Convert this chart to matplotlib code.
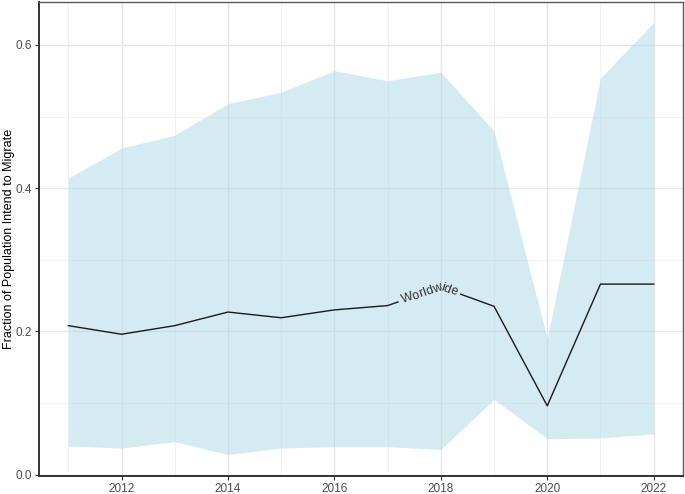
import numpy as np
import matplotlib
matplotlib.use("Agg")
import matplotlib.pyplot as plt
from matplotlib.ticker import MultipleLocator

plt.rcParams['font.family'] = ['Liberation Sans', 'DejaVu Sans']

years = np.arange(2011, 2023)
mean = [0.208, 0.196, 0.208, 0.227, 0.219, 0.230, 0.236, 0.262, 0.235, 0.096, 0.266, 0.266]
upper = [0.414, 0.456, 0.474, 0.518, 0.534, 0.564, 0.550, 0.562, 0.480, 0.190, 0.554, 0.631]
lower = [0.040, 0.037, 0.046, 0.028, 0.037, 0.039, 0.039, 0.035, 0.105, 0.050, 0.051, 0.057]
label = "Worldwide"

fig = plt.figure(figsize=(6.85, 4.94), dpi=100)
ax = fig.add_axes([0.057, 0.0364, 0.94, 0.9596])

# grid like theme_bw
ax.set_xlim(2010.45, 2022.55)
ax.set_ylim(-0.002, 0.66)
ax.xaxis.set_major_locator(MultipleLocator(2))
ax.xaxis.set_minor_locator(MultipleLocator(1))
ax.yaxis.set_major_locator(MultipleLocator(0.2))
ax.yaxis.set_minor_locator(MultipleLocator(0.1))
ax.grid(which='major', color='#E6E6E6', lw=1.0)
ax.grid(which='minor', color='#F0F0F0', lw=0.6)
ax.set_axisbelow(True)
ax.tick_params(which='minor', length=0)
ax.tick_params(which='major', length=3, pad=2, color='#333333', labelcolor='#4D4D4D', labelsize=8.5)
ax.yaxis.set_major_formatter(matplotlib.ticker.FormatStrFormatter('%.1f'))
for s in ['top', 'right']:
    ax.spines[s].set_color('#5A5A5A')
    ax.spines[s].set_linewidth(1.0)
for s in ['left', 'bottom']:
    ax.spines[s].set_color('#333333')
    ax.spines[s].set_linewidth(1.4)
ax.set_ylabel('Fraction of Population Intend to Migrate', fontsize=9)
ax.yaxis.label.set_va('center')
ax.yaxis.set_label_coords(-0.046, 0.5)

ax.fill_between(years, lower, upper, color='#ADD8E6', alpha=0.5, lw=0)

# line with curved text label (like geomtextpath)
fig.canvas.draw()
renderer = fig.canvas.get_renderer()
pts = ax.transData.transform(np.column_stack([years, mean]))
seg = np.hypot(np.diff(pts[:, 0]), np.diff(pts[:, 1]))
cum = np.concatenate([[0], np.cumsum(seg)])

def at(s):
    i = np.clip(np.searchsorted(cum, s) - 1, 0, len(seg) - 1)
    t = (s - cum[i]) / seg[i]
    p = pts[i] + t * (pts[i + 1] - pts[i])
    ang = np.degrees(np.arctan2(pts[i + 1, 1] - pts[i, 1], pts[i + 1, 0] - pts[i, 0]))
    return p, ang

widths = []
for ch in label:
    t = ax.text(0, 0, ch, fontsize=9)
    widths.append(t.get_window_extent(renderer).width)
    t.remove()
total_w = sum(widths)
s_mid = cum[-1] / 2
s0 = s_mid - total_w / 2
pos = s0
for ch, w in zip(label, widths):
    p, ang = at(pos + w / 2)
    xd, yd = ax.transData.inverted().transform(p)
    ax.text(xd, yd, ch, fontsize=9, color='#333333', rotation=ang,
            rotation_mode='anchor', ha='center', va='center')
    pos += w

gap = 4
sa, sb = s0 - gap, s0 + total_w + gap
left = [pts[k] for k in range(len(pts)) if cum[k] < sa] + [at(sa)[0]]
right = [at(sb)[0]] + [pts[k] for k in range(len(pts)) if cum[k] > sb]
inv = ax.transData.inverted()
for part in (left, right):
    d = inv.transform(np.array(part))
    ax.plot(d[:, 0], d[:, 1], color='#1A1A1A', lw=1.0)

fig.savefig('out.png', dpi=100)
